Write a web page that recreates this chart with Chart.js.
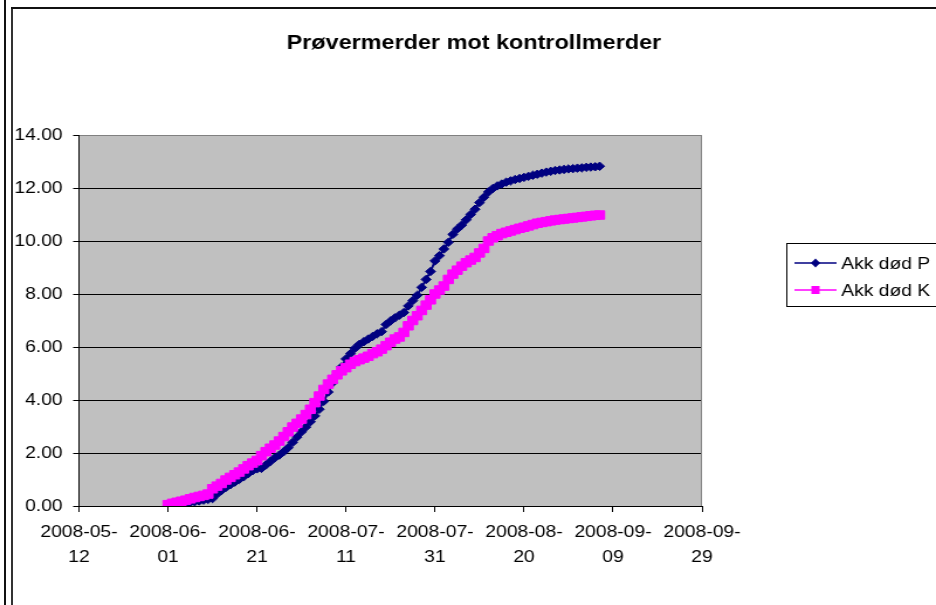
<!DOCTYPE html>
<html>
<head>
<meta charset="utf-8">
<script src="https://cdn.jsdelivr.net/npm/chart.js@4.4.0/dist/chart.umd.min.js"></script>
<style>
    html, body { margin: 0; padding: 0; background: #fff; overflow: hidden; }
    #wrap { position: relative; width: 936px; height: 605px; }
    #c { position: absolute; left: 0; top: 0; }
    .rule { position: absolute; background: #111; }
</style>
</head>
<body>
<div id="wrap">
    <canvas id="c" width="800" height="605" style="width:936px;height:605px"></canvas>
    <div class="rule" style="left:4px;top:0;width:2px;height:605px"></div>
    <div class="rule" style="left:11px;top:7px;width:2px;height:598px;background:#333"></div>
    <div class="rule" style="left:11px;top:7px;width:925px;height:2px"></div>
</div>
<script>
// x axis: days after 2008-05-12, one tick every 20 days
const xTickLabels = ['2008-05-12', '2008-06-01', '2008-06-21', '2008-07-11',
                     '2008-07-31', '2008-08-20', '2008-09-09', '2008-09-29'];
const firstDay = 20; // first reading is 2008-06-01, then one per day

const seriesNames = ['Akk død P', 'Akk død K'];

const akkDodP = [
    0.00, 0.02, 0.04, 0.07, 0.10, 0.13, 0.16, 0.19, 0.22, 0.25,
    0.28, 0.45, 0.58, 0.70, 0.80, 0.90, 1.00, 1.10, 1.22, 1.33,
    1.40, 1.42, 1.55, 1.68, 1.82, 1.92, 2.05, 2.20, 2.40, 2.60,
    2.80, 2.98, 3.18, 3.40, 3.65, 3.95, 4.30, 4.65, 4.95, 5.25,
    5.55, 5.75, 5.95, 6.10, 6.20, 6.30, 6.40, 6.50, 6.58, 6.85,
    6.98, 7.10, 7.20, 7.30, 7.55, 7.75, 7.95, 8.25, 8.55, 8.85,
    9.25, 9.45, 9.70, 9.95, 10.25, 10.45, 10.60, 10.80, 11.00, 11.20,
    11.45, 11.65, 11.85, 11.98, 12.08, 12.15, 12.22, 12.27, 12.32, 12.36,
    12.40, 12.44, 12.48, 12.52, 12.56, 12.60, 12.63, 12.66, 12.68, 12.70,
    12.72, 12.73, 12.75, 12.76, 12.78, 12.79, 12.80, 12.82
];

const akkDodK = [
    0.05, 0.10, 0.14, 0.18, 0.22, 0.27, 0.32, 0.36, 0.40, 0.45,
    0.65, 0.75, 0.85, 0.98, 1.08, 1.18, 1.28, 1.40, 1.52, 1.62,
    1.72, 1.90, 2.05, 2.18, 2.30, 2.45, 2.62, 2.80, 2.98, 3.12,
    3.28, 3.45, 3.65, 3.90, 4.15, 4.40, 4.60, 4.78, 4.95, 5.10,
    5.22, 5.35, 5.45, 5.52, 5.58, 5.65, 5.75, 5.82, 5.92, 6.05,
    6.18, 6.30, 6.38, 6.55, 6.80, 7.00, 7.18, 7.38, 7.58, 7.78,
    8.00, 8.15, 8.30, 8.55, 8.75, 8.90, 9.05, 9.18, 9.28, 9.38,
    9.55, 9.72, 10.00, 10.12, 10.20, 10.28, 10.33, 10.38, 10.43, 10.48,
    10.52, 10.57, 10.62, 10.67, 10.70, 10.73, 10.76, 10.79, 10.81, 10.83,
    10.85, 10.87, 10.89, 10.91, 10.93, 10.95, 10.97, 10.98
];

const FONT = 'Arial, "Liberation Sans", sans-serif';

function toPoints(values) {
    return values.map((v, i) => ({ x: firstDay + i, y: v }));
}

// grey plot area plus its grey right edge
const plotBackground = {
    id: 'plotBackground',
    beforeDraw(chart) {
        const { ctx, chartArea: a } = chart;
        ctx.save();
        ctx.fillStyle = '#C0C0C0';
        ctx.fillRect(a.left, a.top, a.right - a.left, a.bottom - a.top);
        ctx.restore();
    },
    beforeDatasetsDraw(chart) {
        const { ctx, chartArea: a } = chart;
        ctx.save();
        ctx.strokeStyle = '#808080';
        ctx.lineWidth = 1;
        ctx.beginPath();
        ctx.moveTo(a.right - 0.5, a.top);
        ctx.lineTo(a.right - 0.5, a.bottom);
        ctx.stroke();
        ctx.restore();
    }
};

// title and boxed legend in the Excel spots
const titleAndLegend = {
    id: 'titleAndLegend',
    afterDraw(chart) {
        const ctx = chart.ctx;
        ctx.save();
        ctx.fillStyle = '#000';
        ctx.font = 'bold 20px ' + FONT;
        ctx.textAlign = 'center';
        ctx.textBaseline = 'middle';
        ctx.fillText('Prøvermerder mot kontrollmerder', 405, 43);

        ctx.fillStyle = '#fff';
        ctx.fillRect(672, 243, 140, 63);
        ctx.strokeStyle = '#000';
        ctx.lineWidth = 1;
        ctx.strokeRect(672.5, 243.5, 140, 63);

        ctx.font = '16.5px ' + FONT;
        ctx.textAlign = 'left';
        chart.data.datasets.forEach((ds, i) => {
            const y = 263 + i * 27;
            ctx.strokeStyle = ds.borderColor;
            ctx.lineWidth = 1.5;
            ctx.beginPath();
            ctx.moveTo(679, y);
            ctx.lineTo(715, y);
            ctx.stroke();
            ctx.fillStyle = ds.borderColor;
            ctx.beginPath();
            if (ds.pointStyle === 'rectRot') {
                ctx.moveTo(697, y - 4.5);
                ctx.lineTo(701, y);
                ctx.lineTo(697, y + 4.5);
                ctx.lineTo(693, y);
                ctx.closePath();
            } else {
                ctx.rect(693.5, y - 4, 7, 8);
            }
            ctx.fill();
            ctx.fillStyle = '#000';
            ctx.fillText(ds.label, 719, y + 1);
        });
        ctx.restore();
    }
};

new Chart(document.getElementById('c'), {
    type: 'line',
    data: {
        datasets: [{
            label: seriesNames[0],
            data: toPoints(akkDodP),
            borderColor: '#000080',
            backgroundColor: '#000080',
            pointBackgroundColor: '#000080',
            pointBorderColor: '#000080',
            pointStyle: 'rectRot',
            pointRadius: 4.2,
            pointBorderWidth: 1,
            borderWidth: 2,
            order: 1
        }, {
            label: seriesNames[1],
            data: toPoints(akkDodK),
            borderColor: '#FF00FF',
            backgroundColor: '#FF00FF',
            pointBackgroundColor: '#FF00FF',
            pointBorderColor: '#FF00FF',
            pointStyle: 'rect',
            pointRadius: 6,
            pointBorderWidth: 1,
            borderWidth: 2,
            order: 0
        }]
    },
    options: {
        responsive: false,
        animation: false,
        layout: { padding: { top: 135, right: 200, bottom: 0, left: 0 } },
        plugins: {
            legend: { display: false },
            title: { display: false },
            tooltip: { enabled: false }
        },
        scales: {
            x: {
                type: 'linear',
                min: 0,
                max: 140,
                afterFit: scale => { scale.height = 99; },
                border: { color: '#000', width: 1 },
                grid: {
                    drawOnChartArea: false,
                    drawTicks: true,
                    tickLength: 6,
                    tickColor: '#000'
                },
                ticks: {
                    stepSize: 20,
                    autoSkip: false,
                    maxRotation: 0,
                    padding: 8.5,
                    color: '#000',
                    font: { family: FONT, size: 16.5, lineHeight: 1.5 },
                    callback: value => {
                        const lbl = xTickLabels[Math.round(value / 20)];
                        return lbl ? [lbl.slice(0, 8), lbl.slice(8)] : '';
                    }
                }
            },
            y: {
                min: 0,
                max: 14,
                afterFit: scale => { scale.width = 67.5; },
                border: { color: '#000', width: 1 },
                grid: {
                    color: ctx => (ctx.tick && ctx.tick.value === 14) ? '#808080' : '#000',
                    lineWidth: 1,
                    drawTicks: true,
                    tickLength: 5,
                    tickColor: '#000'
                },
                ticks: {
                    stepSize: 2,
                    padding: 9,
                    color: '#000',
                    font: { family: FONT, size: 16.5 },
                    callback: value => value.toFixed(2)
                }
            }
        }
    },
    plugins: [plotBackground, titleAndLegend]
});
</script>
</body>
</html>
